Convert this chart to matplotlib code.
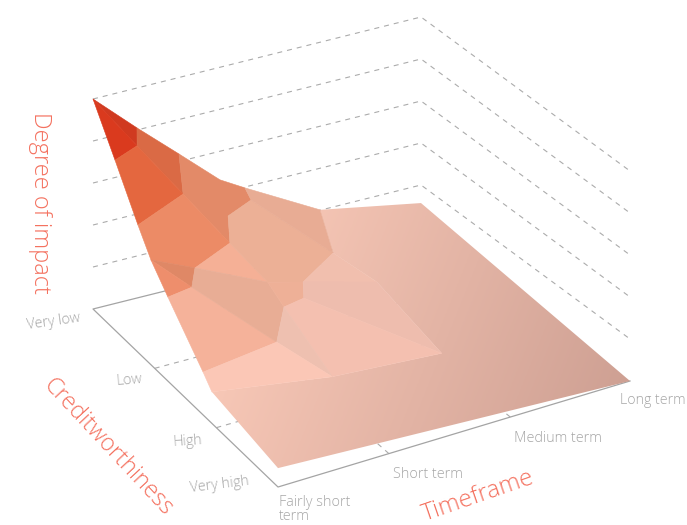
import numpy as np
import matplotlib
matplotlib.use("Agg")
import matplotlib.pyplot as plt
from matplotlib.colors import LinearSegmentedColormap
from matplotlib.patches import Polygon

plt.rcParams["font.family"] = ["Open Sans", "DejaVu Sans"]

credit_labels = ["Very low", "Low", "High", "Very high"]
time_labels = ["Fairly short\nterm", "Short term", "Medium term", "Long term"]
impact_levels = [1, 2, 3, 4, 5]

# surface vertices: timeframe (0-1), creditworthiness (0-1), degree of impact
vertex_time = [0, 0, 0, 0, 0, 0, 0, 0,
               .134, .262, .387, .463, .692, 1, 1,
               .094, .187, .442, .345, .278, .134, .079,
               .601, .454, .413, .345, .24, .318, .637, .6155, .319]
vertex_credit = [0, .119, .243, .3135, .405, .595, .643, 1,
                 0, 0, 0, 0, 0, 0, 1,
                 .071, .152, .067, .1135, .2385, .3085, .39,
                 .2154, .3124, .3865, .4024, .5503, .3653, .3746, .7349, .6991]
vertex_impact = [5, 4.05, 3.03, 2.495, 2, 1.02, .75, .45,
                 4.05, 3.18, 2.32, 1.98, 1.01, .57, 0,
                 4, 3, 2, 2, 2, 2, 2,
                 1, 1, 1, 1, 1, 1.5, .85, .6, .6]

# facets as vertex indices, with their fill colours
facets = [
    [0, 8, 15], [0, 15, 1], [8, 9, 16, 15], [1, 15, 16, 2],
    [9, 10, 11, 17, 18, 19, 16], [2, 16, 19, 20, 3], [3, 20, 21], [3, 21, 4],
    [4, 21, 26, 5], [20, 19, 27], [21, 20, 27, 25, 26],
    [18, 17, 22, 23, 27, 19], [11, 12, 22, 17], [27, 23, 24, 25],
    [22, 28, 23], [23, 28, 29, 24], [24, 29, 30, 25], [25, 30, 26],
    [5, 26, 30, 6],
]
facet_colors = [
    "#d03a20", "#da3a1e", "#da6a45", "#e4673f",
    "#e38a68", "#ec8b66", "#df8866", "#ee8e6c",
    "#f5b29a", "#f5b096", "#e8ad95",
    "#ecb096", "#e8ac94", "#eeb097",
    "#f1bfae", "#eebdae", "#f4c0b0", "#eec0b0",
    "#fbc7b6",
]
# the large low-impact area fades towards the far corner
fading_area = [12, 13, 14, 7, 6, 30, 29, 28, 22]


def project(t, c, z):
    # bilinear floor plus a vertical offset per impact unit
    t, c, z = np.asarray(t, float), np.asarray(c, float), np.asarray(z, float)
    x = 93 + 328 * t + 185 * c + 24 * t * c
    y = 309 - 82 * t + 178 * c - 24 * t * c - 42 * z
    return x, y


vx, vy = project(vertex_time, vertex_credit, vertex_impact)


def facet_xy(idx):
    return np.column_stack([vx[idx], vy[idx]])


fig = plt.figure(figsize=(6.87, 5.25), dpi=100)
ax = fig.add_axes([0, 0, 1, 1])

dash = dict(color="#ababab", lw=0.8, ls=(0, (4.5, 4.5)), zorder=1)

# back walls
for level in impact_levels:
    x, y = project([0, 1, 1], [0, 0, 1], [level] * 3)
    ax.plot(x, y, **dash)

# floor grid
for c in [1 / 3, 2 / 3]:
    x, y = project([0, 1], [c, c], [0, 0])
    ax.plot(x, y, **dash)
for t in [.315, .66]:
    x, y = project([t, t], [1, 0], [0, 0])
    ax.plot(x, y, **dash)

# floor edges
x, y = project([1, 0, 0, 1], [0, 0, 1, 1], [0] * 4)
ax.plot(x, y, color="#a4a4a4", lw=0.9, zorder=1.5)

fade = LinearSegmentedColormap.from_list("fade", ["#f7c7b6", "#cea093"])
px, py = np.meshgrid(np.arange(0, 688, 2), np.arange(0, 526, 2))
shade = px + 0.4 * py
clip = Polygon(facet_xy(fading_area), closed=True, fc="none", ec="none",
               transform=ax.transData)
ax.add_patch(clip)
im = ax.imshow(shade, extent=[0, 687, 525, 0], cmap=fade, vmin=370, vmax=782,
               aspect="auto", zorder=2, interpolation="bilinear")
im.set_clip_path(clip)

for idx, col in zip(facets, facet_colors):
    ax.add_patch(Polygon(facet_xy(idx), closed=True, fc=col, ec=col, lw=0.4,
                         joinstyle="round", zorder=3))

# category labels
label = dict(color="#a6a6a6", fontsize=10.4, ha="center", va="center", fontweight="light")
ax.text(54, 322, credit_labels[0], rotation=8, **label)
ax.text(129, 380, credit_labels[1], rotation=5, **label)
ax.text(188, 441, credit_labels[2], rotation=4, **label)
ax.text(220, 485, credit_labels[3], rotation=7, **label)

ax.text(279, 495, time_labels[0], color="#a6a6a6", fontsize=10.4, ha="left",
        va="top", linespacing=0.95, fontweight="light")
ax.text(428, 475, time_labels[1], **label)
ax.text(558, 439, time_labels[2], **label)
ax.text(620, 401, time_labels[3], color="#a6a6a6", fontsize=10.2, ha="left",
        va="center", fontweight="light")

# axis titles
title = dict(color="#f4715f", ha="center", va="center", rotation_mode="anchor",
             fontweight="light")
ax.text(40, 203, "Degree of impact", rotation=-90, fontsize=17, **title)
ax.text(108, 447, "Creditworthiness", rotation=-47, fontsize=16.8, **title)
ax.text(478, 496, "Timeframe", rotation=19, fontsize=17.6, **title)

ax.set_xlim(0, 687)
ax.set_ylim(525, 0)
ax.axis("off")

fig.savefig("out.png", dpi=100, facecolor="white")
